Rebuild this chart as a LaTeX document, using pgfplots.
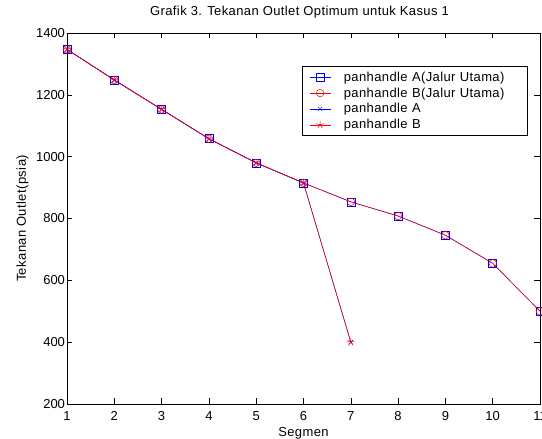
\documentclass[border=0pt]{standalone}
\usepackage{pgfplots}
\pgfplotsset{compat=1.18}
\usepackage{fontspec}
\setmainfont{Liberation Sans}[LetterSpace=3]
\newfontfamily\numfont{Liberation Sans}
\begin{document}
\begin{tikzpicture}[x=1pt,y=1pt]
\useasboundingbox (-67,-35) rectangle (475,404);
\begin{axis}[
  scale only axis,
  width=473pt, height=371pt,
  xmin=1, xmax=11, ymin=200, ymax=1400,
  xtick={1,...,11}, ytick={200,400,...,1400},
  tick align=inside,
  major tick length=5.5pt,
  tick style={black, line width=0.5pt},
  axis line style={line width=0.6pt},
  every tick label/.append style={font=\numfont\fontsize{13}{15}\selectfont},
  /pgf/number format/assume math mode=true,
  /pgf/number format/1000 sep={},
  xticklabel style={anchor=base, yshift=-17pt},
  yticklabel style={xshift=1.5pt},
  title={Grafik 3. Tekanan Outlet Optimum untuk Kasus 1},
  title style={font=\fontsize{13}{15}\selectfont, at={(0.5,1)}, anchor=base, yshift=11pt, xshift=-4pt},
  xlabel={Segmen},
  ylabel={Tekanan Outlet(psia)},
  label style={font=\fontsize{13}{15}\selectfont},
  xlabel style={at={(0.5,0)}, anchor=base, yshift=-33pt},
  ylabel style={at={(rel axis cs:0,0.5)}, anchor=base, yshift=41pt},
  legend style={at={(0.497,0.91)}, anchor=north west, draw=black, line width=0.6pt,
    font=\fontsize{13}{15}\selectfont, row sep=1pt, inner xsep=0pt, inner ysep=3pt,
    nodes={text width=180pt, inner xsep=3pt}},
  legend cell align=left,
  legend image code/.code={\path (-7pt,0pt) (31pt,0pt); \draw[#1] (0pt,0pt) -- (21pt,0pt); \draw[#1, only marks] plot coordinates {(10.5pt,0pt)};},
]
\addplot[blue, line width=0.5pt, mark=square, mark size=4pt, mark options={solid}]
  coordinates {(1,1347) (2,1248) (3,1153) (4,1058) (5,980) (6,915) (7,854) (8,808) (9,746) (10,655) (11,500)};
\addlegendentry{panhandle A(Jalur Utama)}
\addplot[red, line width=0.5pt, mark=o, mark size=3.8pt]
  coordinates {(1,1347) (2,1248) (3,1153) (4,1058) (5,980) (6,915) (7,854) (8,808) (9,746) (10,655) (11,500)};
\addlegendentry{panhandle B(Jalur Utama)}
\addplot[blue, line width=0.5pt, mark=x, mark size=3pt]
  coordinates {(1,1347) (2,1248) (3,1153) (4,1058) (5,980) (6,915) (7,400)};
\addlegendentry{panhandle A}
\addplot[red, line width=0.5pt, mark=star, mark size=4pt]
  coordinates {(1,1347) (2,1248) (3,1153) (4,1058) (5,980) (6,915) (7,400)};
\addlegendentry{panhandle B}
\end{axis}
\end{tikzpicture}
\end{document}
